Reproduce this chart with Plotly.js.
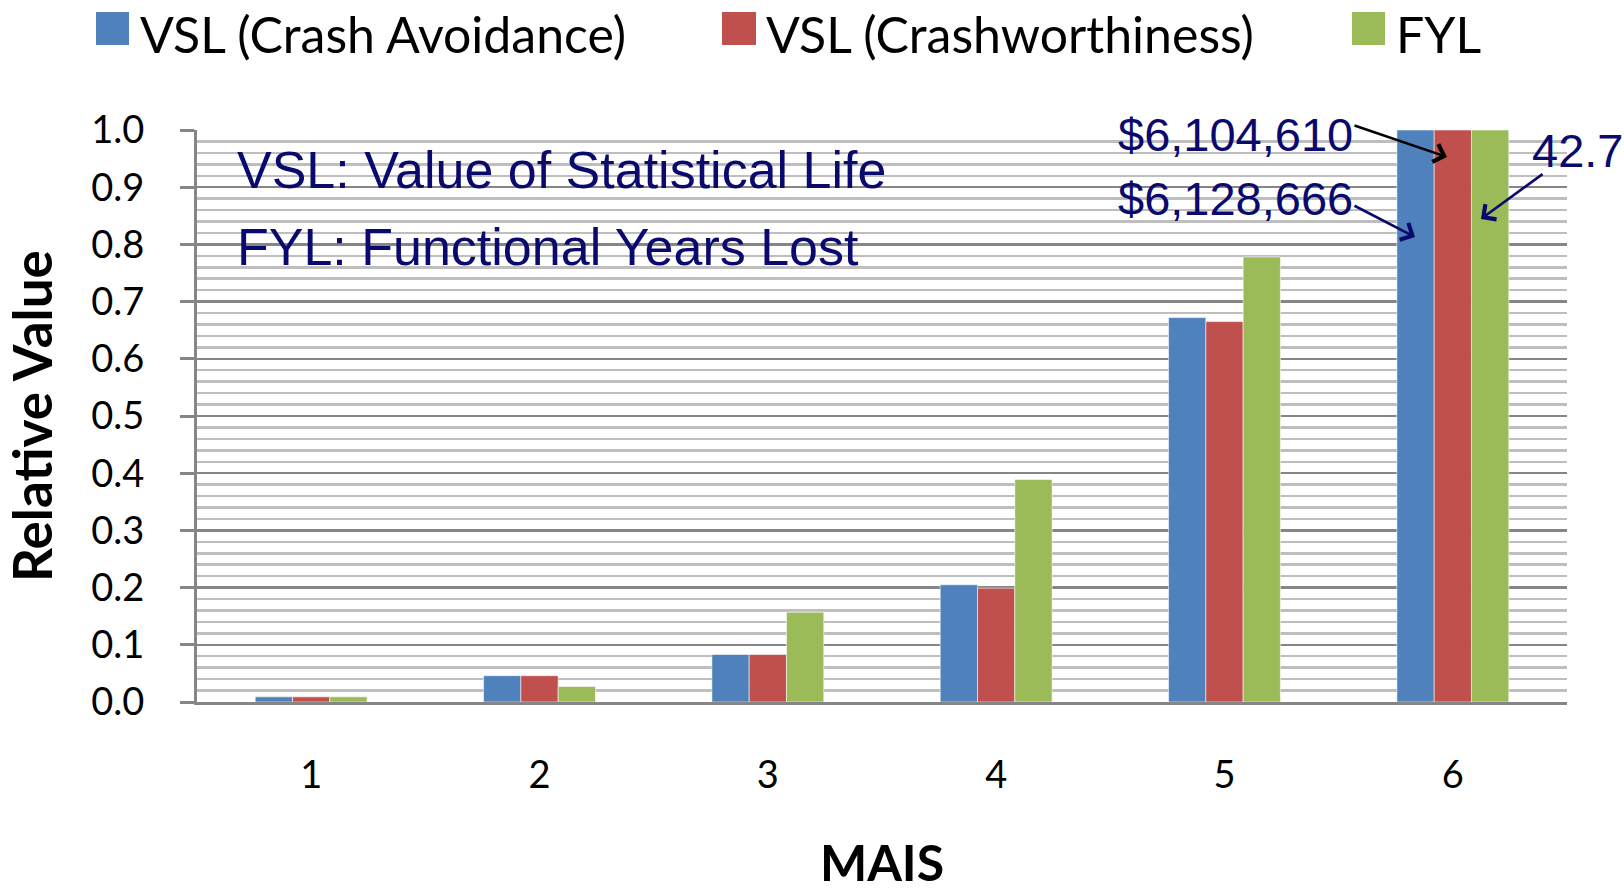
<!DOCTYPE html>
<html>
<head>
<meta charset="utf-8">
<script src="https://cdn.plot.ly/plotly-3.0.1.min.js"></script>
<style>
html,body{margin:0;padding:0;background:#fff;}
#chart{width:1624px;height:892px;}
</style>
</head>
<body>
<div id="chart"></div>
<script>
// ---- data ----
const categories = ['1', '2', '3', '4', '5', '6'];
const seriesNames = ['VSL (Crash Avoidance)', 'VSL (Crashworthiness)', 'FYL'];
const vslCrashAvoidance = [0.009, 0.046, 0.083, 0.205, 0.672, 1.0];
const vslCrashworthiness = [0.009, 0.046, 0.083, 0.199, 0.665, 1.0];
const fyl = [0.009, 0.027, 0.157, 0.389, 0.778, 1.0];
const yTickVals = [0, 0.1, 0.2, 0.3, 0.4, 0.5, 0.6, 0.7, 0.8, 0.9, 1.0];
const noteLines = ['VSL: Value of Statistical Life', 'FYL: Functional Years Lost'];
const calloutLabels = ['$6,104,610', '$6,128,666', '42.7'];
const xTitle = 'MAIS';
const yTitle = 'Relative Value';

// ---- styling ----
const colors = ['#4F81BD', '#C0504D', '#9BBB59'];
const navy = '#0a0a6e';
const W = 1624, H = 892;
const M = {l: 197, r: 57, t: 130, b: 190};
const PW = W - M.l - M.r, PH = H - M.t - M.b;
const px = x => (x - M.l) / PW;        // pixel -> paper x
const py = y => (H - M.b - y) / PH;    // pixel -> paper y

const seriesValues = [vslCrashAvoidance, vslCrashworthiness, fyl];
const traces = seriesValues.map((vals, i) => ({
  type: 'bar',
  name: seriesNames[i],
  x: categories,
  y: vals,
  marker: {color: colors[i], line: {color: 'rgba(255,255,255,0.55)', width: 1}},
  showlegend: false,
  hoverinfo: 'skip'
}));

// custom legend (large square swatches)
const legendSquares = [[96, 129], [722, 756], [1352, 1385]];
const legendTextX = [142, 768, 1398];
const shapes = [];
const annotations = [];
seriesNames.forEach((name, i) => {
  shapes.push({type: 'rect', xref: 'paper', yref: 'paper',
    x0: px(legendSquares[i][0]), x1: px(legendSquares[i][1]),
    y0: py(45), y1: py(12), fillcolor: colors[i], line: {width: 0}});
  annotations.push({xref: 'paper', yref: 'paper', x: px(legendTextX[i] - 3), y: py(34),
    xanchor: 'left', yanchor: 'middle', showarrow: false, text: name, borderpad: 0,
    font: {family: 'Lato', size: 50, color: '#000'}});
});

// notes
annotations.push({xref: 'paper', yref: 'paper', x: px(235), y: py(170), xanchor: 'left', yanchor: 'middle',
  showarrow: false, text: noteLines[0], font: {family: 'Liberation Sans', size: 52, color: navy}});
annotations.push({xref: 'paper', yref: 'paper', x: px(235), y: py(247), xanchor: 'left', yanchor: 'middle',
  showarrow: false, text: noteLines[1], font: {family: 'Liberation Sans', size: 52, color: navy}});

// callout values
annotations.push({xref: 'paper', yref: 'paper', x: px(1355), y: py(134), xanchor: 'right', yanchor: 'middle',
  showarrow: false, text: calloutLabels[0], font: {family: 'Liberation Sans', size: 47, color: navy}});
annotations.push({xref: 'paper', yref: 'paper', x: px(1355), y: py(198), xanchor: 'right', yanchor: 'middle',
  showarrow: false, text: calloutLabels[1], font: {family: 'Liberation Sans', size: 47, color: navy}});
annotations.push({xref: 'paper', yref: 'paper', x: px(1530), y: py(151), xanchor: 'left', yanchor: 'middle',
  showarrow: false, text: calloutLabels[2], font: {family: 'Liberation Sans', size: 47, color: navy}});

// arrows
const arrows = [
  {head: [1447, 157], tail: [1353, 125], color: '#000'},
  {head: [1415, 237], tail: [1353, 205], color: navy},
  {head: [1481, 219], tail: [1544, 173], color: navy}
];
arrows.forEach(a => annotations.push({
  xref: 'paper', yref: 'paper', x: px(a.head[0]), y: py(a.head[1]),
  ax: a.tail[0] - a.head[0], ay: a.tail[1] - a.head[1],
  text: '', showarrow: true, arrowhead: 4, arrowsize: 1.4, arrowwidth: 2.6, arrowcolor: a.color
}));

const layout = {
  width: W, height: H,
  margin: M,
  paper_bgcolor: '#fff', plot_bgcolor: '#fff',
  barmode: 'group', bargap: 0.51, bargroupgap: 0,
  font: {family: 'Lato', color: '#000'},
  xaxis: {
    type: 'category',
    showgrid: false, zeroline: false,
    showline: true, linecolor: '#868686', linewidth: 3,
    ticks: '', ticklabelstandoff: 37,
    tickfont: {family: 'Lato', size: 38, color: '#000'},
    title: {text: xTitle, standoff: 62, font: {family: 'Lato', size: 50, weight: 'bold', color: '#000'}},
    fixedrange: true
  },
  yaxis: {
    range: [0, 1.0],
    tickvals: yTickVals, tickformat: '.1f',
    showgrid: true, gridcolor: '#868686', gridwidth: 2.5,
    minor: {dtick: 0.02, showgrid: true, gridcolor: '#bebebe', gridwidth: 2.5, ticks: ''},
    zeroline: false,
    showline: true, linecolor: '#868686', linewidth: 3,
    ticks: 'outside', ticklen: 14, tickwidth: 3, tickcolor: '#868686',
    ticklabelstandoff: 28,
    tickfont: {family: 'Lato', size: 38, color: '#000'},
    title: {text: yTitle, standoff: 35, font: {family: 'Lato', size: 53, weight: 'bold', color: '#000'}},
    fixedrange: true
  },
  shapes: shapes,
  annotations: annotations,
  showlegend: false
};

Plotly.newPlot('chart', traces, layout, {displayModeBar: false, staticPlot: true});
</script>
</body>
</html>
